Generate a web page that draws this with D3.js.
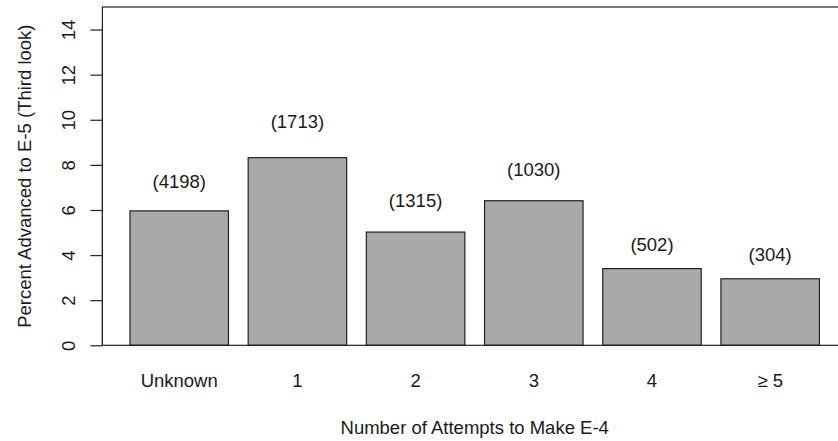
<!DOCTYPE html>
<html>
<head>
<meta charset="utf-8">
<script src="https://cdn.jsdelivr.net/npm/d3@7"></script>
<style>
  html, body { margin: 0; padding: 0; background: #fff; }
  svg { display: block; font-family: "Liberation Sans", Arial, sans-serif; }
</style>
</head>
<body>
<svg id="chart" width="838" height="441"></svg>
<script>
// Categories: number of attempts needed to make E-4
const categories = ["Unknown", "1", "2", "3", "4", "\u2265 5"];
// Percent advanced to E-5 on the third look
const percents = [5.96, 8.32, 5.02, 6.41, 3.40, 2.95];
// Group sizes shown above each bar
const counts = [4198, 1713, 1315, 1030, 502, 304];
// Vertical position (in percent units) of each count label
const countLabelY = [7.28, 9.94, 6.41, 7.81, 4.49, 4.01];
// Y axis ticks
const yTicks = [0, 2, 4, 6, 8, 10, 12, 14];

const FONT = 18.5;
const INK = "#1a1a1a";
const LINE = "#222";

const svg = d3.select("#chart");

// Plot region in user coordinates: bars are 1 unit wide with 0.2 spacing
const nBars = categories.length;
const xMin = 0.2, xMax = 0.2 + nBars * 1.2 - 0.2;
const pad = (xMax - xMin) * 0.04;

const x = d3.scaleLinear()
  .domain([xMin - pad, xMax + pad])
  .range([102.4, 847]);

const y = d3.scaleLinear()
  .domain([0, 15])
  .range([345.3, 7]);

const barLeft = i => 0.2 + i * 1.2;
const barMid = i => barLeft(i) + 0.5;

// Bars
svg.append("g")
  .selectAll("rect")
  .data(percents)
  .join("rect")
  .attr("x", (d, i) => x(barLeft(i)))
  .attr("width", (d, i) => x(barLeft(i) + 1) - x(barLeft(i)))
  .attr("y", d => y(d))
  .attr("height", d => y(0) - y(d))
  .attr("fill", "#a9a9a9")
  .attr("stroke", LINE)
  .attr("stroke-width", 1.2);

// Box around the plot region
svg.append("rect")
  .attr("x", x.range()[0])
  .attr("y", y.range()[1])
  .attr("width", x.range()[1] - x.range()[0])
  .attr("height", y.range()[0] - y.range()[1])
  .attr("fill", "none")
  .attr("stroke", LINE)
  .attr("stroke-width", 1.2);

// Count labels above bars
svg.append("g")
  .selectAll("text")
  .data(counts)
  .join("text")
  .attr("x", (d, i) => x(barMid(i)))
  .attr("y", (d, i) => y(countLabelY[i]))
  .attr("text-anchor", "middle")
  .attr("dominant-baseline", "central")
  .attr("font-size", FONT)
  .attr("fill", INK)
  .text(d => `(${d})`);

// Category labels below bars
svg.append("g")
  .selectAll("text")
  .data(categories)
  .join("text")
  .attr("x", (d, i) => x(barMid(i)))
  .attr("y", 380)
  .attr("text-anchor", "middle")
  .attr("dominant-baseline", "central")
  .attr("font-size", FONT)
  .attr("fill", INK)
  .text(d => d);

// Y axis with rotated tick labels
const yAxis = d3.axisLeft(y)
  .tickValues(yTicks)
  .tickSize(12)
  .tickPadding(0)
  .tickSizeOuter(0);

const gy = svg.append("g")
  .attr("transform", `translate(${x.range()[0]},0)`)
  .call(yAxis);

gy.select(".domain")
  .attr("d", `M0,${y(yTicks[0])}V${y(yTicks[yTicks.length - 1])}`)
  .attr("stroke", LINE)
  .attr("stroke-width", 1.2);
gy.selectAll(".tick line").attr("stroke", LINE).attr("stroke-width", 1.2);
gy.selectAll(".tick text")
  .attr("font-size", FONT)
  .attr("font-family", "\"Liberation Sans\", Arial, sans-serif")
  .attr("fill", INK)
  .attr("x", null)
  .attr("dy", null)
  .attr("text-anchor", "middle")
  .attr("dominant-baseline", "central")
  .attr("transform", "translate(-34,0) rotate(-90)");

// Axis titles
svg.append("text")
  .attr("x", (x.range()[0] + x.range()[1]) / 2)
  .attr("y", 427)
  .attr("text-anchor", "middle")
  .attr("dominant-baseline", "central")
  .attr("font-size", FONT)
  .attr("fill", INK)
  .text("Number of Attempts to Make E-4");

svg.append("text")
  .attr("transform", `translate(24,${(y.range()[0] + y.range()[1]) / 2}) rotate(-90)`)
  .attr("text-anchor", "middle")
  .attr("dominant-baseline", "central")
  .attr("font-size", FONT)
  .attr("fill", INK)
  .text("Percent Advanced to E-5 (Third look)");
</script>
</body>
</html>
